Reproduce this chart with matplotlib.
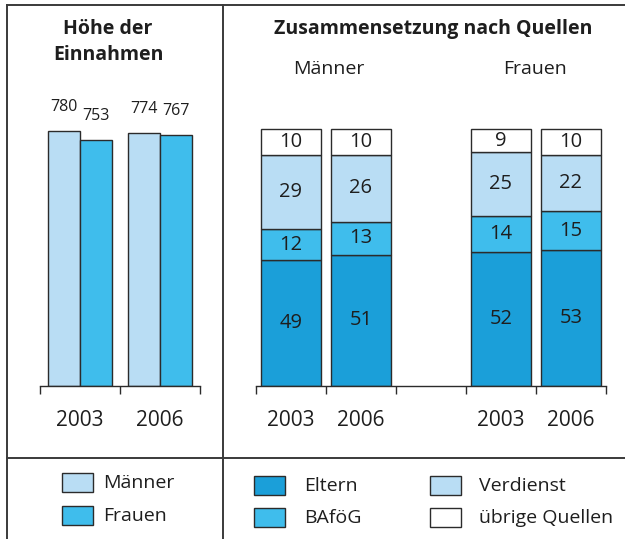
import matplotlib.pyplot as plt
from matplotlib.patches import Rectangle

plt.rcParams['font.family'] = ['Open Sans', 'DejaVu Sans']

# data
years = ['2003', '2006']
einnahmen_maenner = [780, 774]
einnahmen_frauen = [753, 767]

stack_groups = ['Männer', 'Männer', 'Frauen', 'Frauen']
stack_years = ['2003', '2006', '2003', '2006']
eltern = [49, 51, 52, 53]
bafoeg = [12, 13, 14, 15]
verdienst = [29, 26, 25, 22]
uebrige = [10, 10, 9, 10]

c_light = '#b9ddf4'
c_mid = '#3fbdec'
c_dark = '#1b9fd9'
c_edge = '#2b2b2b'
c_text = '#1e1e1e'

W, H = 625, 539
fig = plt.figure(figsize=(W / 100, H / 100), dpi=100)


def px_axes(x0, x1, y_base, height):
    return fig.add_axes([x0 / W, (H - y_base) / H, (x1 - x0) / W, height / H])


# overlay for frame, titles and legend (pixel coordinates)
bg = fig.add_axes([0, 0, 1, 1], zorder=0)
bg.set_xlim(0, W)
bg.set_ylim(H, 0)
bg.axis('off')
lc = '#3a3a3a'
bg.plot([7, W], [5, 5], color=lc, lw=1.4)
bg.plot([7, 7], [5, H], color=lc, lw=1.4)
bg.plot([223, 223], [5, H], color=lc, lw=1.4)
bg.plot([7, W], [458, 458], color=lc, lw=1.4)

bg.text(108, 29, 'Höhe der', ha='center', va='center', fontsize=14, fontweight='bold', color=c_text)
bg.text(108, 55, 'Einnahmen', ha='center', va='center', fontsize=14, fontweight='bold', color=c_text)
bg.text(433, 29, 'Zusammensetzung nach Quellen', ha='center', va='center', fontsize=14,
        fontweight='bold', color=c_text)
bg.text(329, 69, 'Männer', ha='center', va='center', fontsize=14, color=c_text)
bg.text(535, 69, 'Frauen', ha='center', va='center', fontsize=14, color=c_text)

# legend boxes
legend_items = [
    (62, 473, c_light, 'Männer', 103, 483),
    (62, 506, c_mid, 'Frauen', 103, 516),
    (254, 476, c_dark, 'Eltern', 304, 486),
    (254, 508, c_mid, 'BAföG', 304, 518),
    (430, 476, c_light, 'Verdienst', 479, 486),
    (430, 508, 'white', 'übrige Quellen', 479, 518),
]
for x, y, col, lab, tx, ty in legend_items:
    bg.add_patch(Rectangle((x, y), 31, 19, facecolor=col, edgecolor=c_edge, lw=1))
    bg.text(tx, ty, lab, ha='left', va='center', fontsize=14, color=c_text)

# left chart: Höhe der Einnahmen
scale1 = 255 / 780
ax1 = px_axes(40, 200, 386, 270)
ax1.set_xlim(0, 4)
ax1.set_ylim(0, 270 / scale1)
xm = [0.6, 2.6]
xf = [1.4, 3.4]
ax1.bar(xm, einnahmen_maenner, width=0.8, color=c_light, edgecolor=c_edge, lw=1)
ax1.bar(xf, einnahmen_frauen, width=0.8, color=c_mid, edgecolor=c_edge, lw=1)
off = 24 / scale1
for x, v in zip(xm + xf, einnahmen_maenner + einnahmen_frauen):
    ax1.text(x, v + off, str(v), ha='center', va='center', fontsize=11.5, color=c_text)

# right chart: Zusammensetzung nach Quellen
scale2 = 257 / 100
ax2 = px_axes(256, 606, 386, 270)
ax2.set_xlim(0, 5)
ax2.set_ylim(0, 270 / scale2)
xs = [0.5, 1.5, 3.5, 4.5]
bw = 0.87
bottom = [0, 0, 0, 0]
for vals, col in [(eltern, c_dark), (bafoeg, c_mid), (verdienst, c_light), (uebrige, 'white')]:
    ax2.bar(xs, vals, width=bw, bottom=bottom, color=col, edgecolor=c_edge, lw=1)
    for x, b, v in zip(xs, bottom, vals):
        ax2.text(x, b + v / 2, str(v), ha='center', va='center', fontsize=14.5, color=c_text)
    bottom = [b + v for b, v in zip(bottom, vals)]

for ax, n, labpos, labs in [(ax1, 4, [1, 3], years), (ax2, 5, xs, stack_years)]:
    for s in ['top', 'left', 'right']:
        ax.spines[s].set_visible(False)
    ax.spines['bottom'].set_color(c_edge)
    ax.spines['bottom'].set_linewidth(1)
    ax.patch.set_alpha(0)
    ax.set_yticks([])
    ax.set_xticks(range(0, n + 1, 2 if n == 4 else 1), minor=True)
    ax.tick_params(axis='x', which='minor', length=5.5, width=1, color=c_edge, direction='out')
    ax.set_xticks(labpos)
    ax.set_xticklabels(labs, fontsize=15, color=c_text)
    ax.tick_params(axis='x', which='major', length=0, pad=17.5)

fig.savefig('out.png', dpi=100)
